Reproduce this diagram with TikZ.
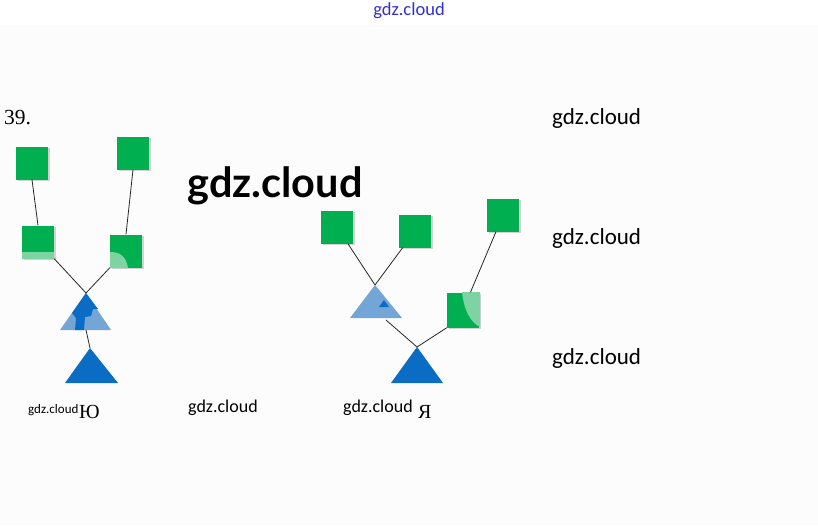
\documentclass[tikz,border=0pt]{standalone}
\usepackage{fontspec}
\setmainfont{Liberation Serif}
\newfontfamily\wmfont{Carlito}
\newfontfamily\bigfont{Lato}
\usetikzlibrary{shadows}
\definecolor{sqgreen}{HTML}{00B050}
\definecolor{lgreen}{HTML}{7DD3A2}
\definecolor{dblue}{HTML}{0A6CC2}
\definecolor{lblue}{HTML}{73A6D6}
\definecolor{wmblue}{HTML}{3030D0}
\definecolor{bggray}{HTML}{FCFCFC}
\tikzset{
  sq/.style={fill=sqgreen, minimum width=32pt, minimum height=33pt, inner sep=0pt,
    drop shadow={shadow xshift=1.5pt, shadow yshift=-1.5pt, fill=gray!35, opacity=1}},
  link/.style={draw=black!85, line width=0.8pt},
  wm/.style={font=\wmfont, text=black, inner sep=0pt},
}
\begin{document}
\begin{tikzpicture}[x=1pt,y=-1pt]
\useasboundingbox (0,0) rectangle (818,525);
\fill[white] (0,0) rectangle (818,525);
\fill[bggray] (0,25) rectangle (818,525);

% ---------- left tree ----------
\node[sq] (A) at (32,163) {};
\node[sq] (B) at (133,153) {};
\node[sq] (C) at (38,242) {};
\node[sq] (D) at (126,251) {};
\fill[lgreen] (22,252) rectangle (54,259);
\fill[lgreen] (110,252) .. controls (120,252) and (126,256) .. (128,268) -- (110,268) -- cycle;

\coordinate (Ea) at (86,293);
\coordinate (Eb) at (86,330);
\fill[lblue] (Ea) -- (111,330) -- (60,330) -- cycle;
\fill[dblue] (Ea) -- (98,309) -- (93,309) -- (91,316) -- (85,317) -- (84,330) -- (75,330) -- (76,318) -- (72,313) -- cycle;

\coordinate (Fa) at (90,348);
\fill[dblue] (Fa) -- (118,383) -- (65,383) -- cycle;

\draw[link] (A.south) -- (C.north);
\draw[link] (B.south) -- (D.north);
\draw[link] (C.south east) -- (Ea);
\draw[link] (D.south west) -- (Ea);
\draw[link] (Eb) -- (Fa);

% ---------- right tree ----------
\node[sq] (G) at (337,227) {};
\node[sq] (H) at (415,231) {};
\node[sq] (I) at (503,215) {};
\node[sq, minimum height=35pt] (K) at (463,310) {};
\fill[lgreen] (462,292) .. controls (464,310) and (470,322) .. (480,327) -- (480,292) -- cycle;

\coordinate (Ja) at (375,285);
\coordinate (Jb) at (386,320);
\fill[lblue] (Ja) -- (402,318) -- (350,318) -- cycle;
\fill[dblue] (384,300) -- (389,307) -- (379,307) -- cycle;

\coordinate (La) at (417,347);
\fill[dblue] (La) -- (443,383) -- (391,383) -- cycle;

\draw[link] (G) -- (Ja);
\draw[link] (H) -- (Ja);
\draw[link] (I) -- (K);
\draw[link] (Jb) -- (La);
\draw[link] (K.south west) -- (La);

% ---------- texts ----------
\node[anchor=west, inner sep=0pt, font=\fontsize{21.5}{21.5}\selectfont] (num) at (4,118) {39.};
\node[inner sep=0pt, font=\wmfont\fontsize{18.5}{18.5}\selectfont, text=wmblue] (top) at (409,11) {gdz.cloud};
\node[inner sep=0pt, font=\bigfont\bfseries\fontsize{41.5}{41.5}\selectfont] (big) at (275,186) {gdz.cloud};
\node[wm, anchor=west, font=\wmfont\fontsize{23}{23}\selectfont] (r1) at (552,118) {gdz.cloud};
\node[wm, anchor=west, font=\wmfont\fontsize{23}{23}\selectfont] (r2) at (552,238) {gdz.cloud};
\node[wm, anchor=west, font=\wmfont\fontsize{23}{23}\selectfont] (r3) at (552,358) {gdz.cloud};
\node[wm, anchor=west, font=\wmfont\fontsize{18}{18}\selectfont] (m1) at (188,408) {gdz.cloud};
\node[wm, anchor=west, font=\wmfont\fontsize{18}{18}\selectfont] (m2) at (343,408) {gdz.cloud};
\node[wm, anchor=west, font=\wmfont\fontsize{13}{13}\selectfont] (s1) at (28,410) {gdz.cloud};
\node[anchor=west, inner sep=0pt, font=\fontsize{20}{20}\selectfont] (yu) at (79,412) {Ю};
\node[anchor=west, inner sep=0pt, font=\fontsize{20}{20}\selectfont] (ya) at (418,412) {Я};
\end{tikzpicture}
\end{document}
